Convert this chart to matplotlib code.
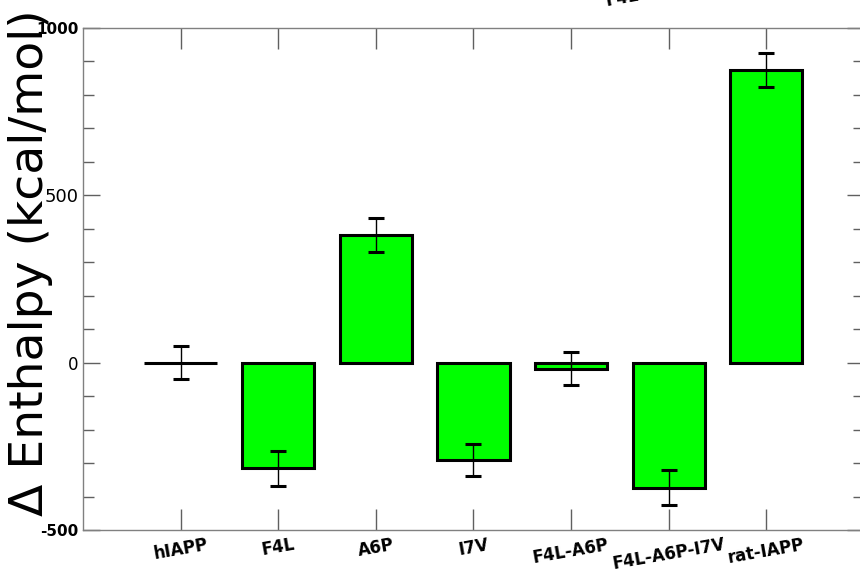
"""Bar chart of enthalpy change for hIAPP variants."""

import matplotlib
matplotlib.use("Agg")
import matplotlib.pyplot as plt
from matplotlib.ticker import MultipleLocator

plt.rcParams["axes.unicode_minus"] = False

variants = ["hIAPP", "F4L", "A6P", "I7V", "F4L-A6P", "F4L-A6P-I7V", "rat-IAPP"]
delta_h = [0, -316, 382, -290, -18, -373, 875]
delta_h_err = [50, 52, 50, 48, 50, 52, 50]

fig = plt.figure(figsize=(8.6, 5.8), dpi=100)
ax = fig.add_axes([0.0965, 0.0862, 0.908, 0.8655])

x = list(range(len(variants)))
ax.bar(x, delta_h, width=0.74, color="#00ff00", edgecolor="black", linewidth=2.2,
       zorder=2)
ax.errorbar(x, delta_h, yerr=delta_h_err, fmt="none", ecolor="black",
            elinewidth=1.0, capsize=5.5, capthick=2.2, zorder=3)

ax.set_xlim(-1, 7)
ax.set_ylim(-500, 1000)
ax.set_xticks(x)
ax.set_xticklabels(variants, rotation=10, fontsize=12, fontweight="bold")
ax.set_yticks([-500, 0, 500, 1000])
ax.yaxis.set_minor_locator(MultipleLocator(100))

for sp in ax.spines.values():
    sp.set_color("#808080")
    sp.set_linewidth(1.0)
ax.spines["right"].set_visible(False)

ax.tick_params(axis="x", which="major", direction="in", length=15, width=1,
               color="#606060", top=True, pad=4)
ax.tick_params(axis="y", which="major", direction="in", length=12, width=1,
               color="#606060", right=True, pad=3)
ax.tick_params(axis="y", which="minor", direction="in", length=8, width=1,
               color="#606060", right=True)

ylab_style = {1000: ("bold", 11), 500: ("normal", 13), 0: ("normal", 12),
              -500: ("bold", 11)}
for lab in ax.get_yticklabels():
    val = int(round(lab.get_position()[1]))
    w, s = ylab_style.get(val, ("normal", 12))
    lab.set_fontweight(w)
    lab.set_fontsize(s)

fig.text(0.036, 0.547, "\u0394 Enthalpy (kcal/mol)", rotation=90, fontsize=34,
         ha="center", va="center")

# stray label clipped at the top edge
fig.text(0.724, 1.004, "F4L", rotation=10, fontsize=12, fontweight="bold",
         ha="center", va="center")

fig.savefig("out.png", dpi=100)
plt.close(fig)
